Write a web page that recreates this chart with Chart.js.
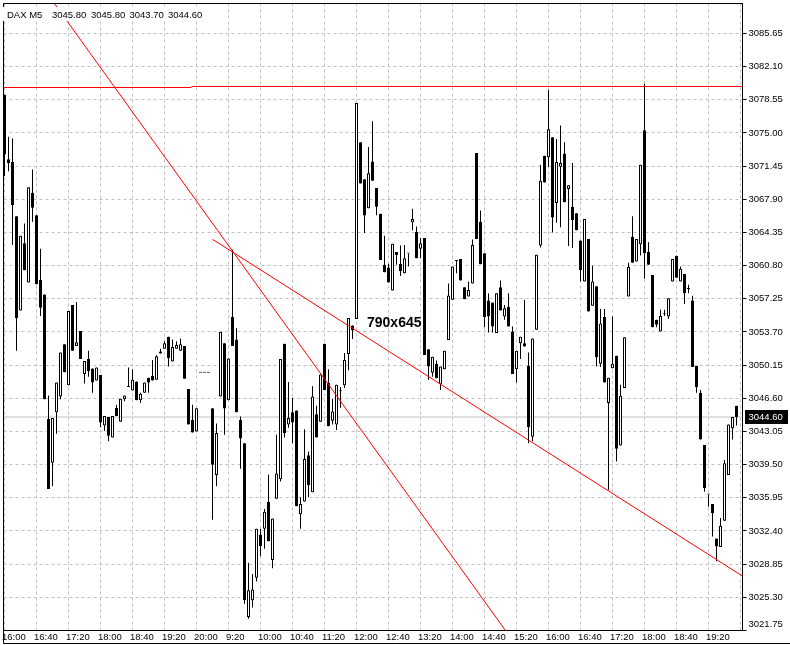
<!DOCTYPE html>
<html><head><meta charset="utf-8">
<script src="https://cdn.jsdelivr.net/npm/chart.js@4.4.1/dist/chart.umd.min.js"></script>
<style>html,body{margin:0;padding:0;background:#fff;overflow:hidden}canvas{display:block}</style>
</head><body>
<canvas id="c" width="790" height="645"></canvas>
<script>
const symbol = 'DAX';
const period = 'M5';
const watermark = '790x645';

const opens = [
3079.1,3072.2,3071.9,3066.1,3056.0,3063.2,3059.0,3068.6,3066.2,3059.3,
3057.7,3044.4,3039.7,3045.1,3046.8,3052.4,3048.0,3056.6,3052.2,3053.8,
3049.2,3050.8,3049.8,3048.5,3049.1,3043.7,3044.6,3042.4,3045.6,3044.1,
3046.5,3047.9,3047.45,3048.4,3046.4,3047.2,3048.8,3049.0,3048.6,3051.4,
3051.9,3053.2,3050.55,3051.9,3051.7,3052.2,3047.6,3044.3,3043.05,3049.35,
3049.35,3049.35,3045.55,3038.4,3046.8,3052.5,3046.4,3055.3,3052.9,3044.3,
3041.8,3023.2,3025.0,3027.4,3032.0,3032.65,3035.5,3029.3,3035.85,3037.95,
3052.45,3043.8,3045.1,3045.3,3034.2,3035.55,3040.5,3036.55,3044.9,3044.1,
3052.45,3048.25,3044.2,3043.8,3047.35,3048.0,3051.35,3054.4,3055.1,3074.0,
3070.06,3066.95,3071.95,3069.1,3066.35,3060.9,3060.6,3058.15,3062.25,3061.0,
3060.0,3062.1,3065.45,3064.4,3062.6,3063.75,3051.85,3049.35,3050.3,3048.1,
3049.7,3052.85,3057.15,3061.3,3061.5,3058.5,3057.5,3058.9,3072.85,3065.5,
3062.14,3057.07,3056.85,3053.58,3058.5,3055.36,3056.4,3053.75,3049.7,3052.5,
3052.5,3050.08,3042.5,3053.93,3062.96,3072.56,3072.4,3074.55,3067.5,3071.4,
3072.8,3069.0,3067.1,3066.4,3063.5,3059.1,3063.65,3056.5,3058.6,3050.3,
3055.3,3046.1,3049.83,3051.15,3041.55,3047.7,3057.5,3063.9,3061.25,3063.1,
3075.3,3062.25,3059.8,3055.0,3053.75,3055.6,3055.36,3059.1,3061.85,3059.1,
3059.9,3058.3,3057.07,3050.08,3047.2,3041.6,3036.3,3035.3,3031.6,3030.68,
3033.5,3038.4,3043.4,3045.8];

const highs = [
3079.1,3074.6,3074.4,3066.1,3064.0,3065.3,3069.2,3071.1,3066.2,3062.6,
3057.7,3046.9,3044.5,3048.3,3051.5,3052.4,3055.95,3056.6,3056.9,3053.8,
3050.6,3051.7,3049.8,3049.9,3049.1,3044.7,3044.6,3044.7,3045.9,3046.55,
3046.9,3049.9,3049.7,3048.4,3047.2,3048.3,3048.8,3050.7,3051.2,3051.9,
3052.7,3053.2,3052.9,3052.7,3053.0,3052.2,3047.6,3045.9,3045.55,3049.35,
3049.35,3049.35,3045.55,3043.9,3053.7,3052.5,3050.85,3062.5,3054.1,3044.65,
3041.8,3029.0,3027.8,3032.65,3032.65,3034.75,3038.45,3033.75,3042.7,3050.8,
3052.45,3048.35,3046.65,3045.3,3036.0,3043.3,3040.9,3047.9,3045.8,3049.15,
3052.45,3049.7,3046.55,3048.05,3047.8,3051.45,3055.2,3054.4,3078.2,3074.0,
3070.06,3073.5,3076.25,3069.1,3066.35,3064.0,3061.0,3063.15,3062.25,3062.95,
3063.0,3062.1,3066.9,3065.0,3063.75,3063.75,3051.85,3051.05,3050.65,3050.0,
3051.7,3058.9,3060.7,3061.4,3061.5,3058.5,3059.1,3063.6,3072.85,3066.7,
3062.14,3057.86,3056.85,3057.86,3059.2,3056.6,3057.86,3054.3,3051.7,3053.2,
3057.15,3051.5,3053.0,3061.96,3071.6,3072.56,3079.6,3074.55,3074.35,3075.8,
3074.0,3069.4,3071.8,3066.4,3063.5,3065.8,3063.65,3060.8,3058.6,3056.15,
3056.15,3048.8,3055.36,3051.15,3048.05,3053.15,3061.1,3066.1,3063.65,3071.6,
3080.26,3063.3,3059.8,3055.0,3056.07,3056.07,3057.3,3061.5,3061.85,3060.7,
3059.9,3058.75,3057.57,3050.08,3047.5,3041.6,3036.3,3035.3,3031.6,3033.8,
3040.0,3043.8,3044.6,3045.8];

const lows = [
3070.4,3070.9,3063.0,3051.7,3056.0,3060.3,3059.0,3065.5,3058.8,3055.4,
3046.5,3036.9,3037.2,3042.8,3046.5,3049.4,3048.0,3051.7,3052.2,3050.8,
3048.2,3048.9,3047.2,3048.5,3043.5,3043.1,3042.0,3042.4,3044.7,3044.1,
3046.3,3047.8,3047.45,3046.4,3046.1,3047.2,3047.2,3048.5,3048.6,3051.4,
3051.9,3050.0,3050.55,3051.9,3051.7,3048.7,3043.8,3042.95,3043.05,3049.35,
3049.35,3049.35,3033.6,3037.2,3046.8,3042.7,3046.4,3052.2,3045.1,3039.05,
3024.6,3023.0,3024.2,3027.0,3029.7,3030.5,3031.3,3028.4,3035.85,3037.7,
3042.4,3043.45,3041.8,3035.05,3032.65,3035.55,3036.0,3036.55,3042.4,3044.1,
3047.5,3043.6,3043.8,3043.2,3045.6,3047.7,3049.6,3052.95,3055.1,3069.6,
3064.3,3066.95,3069.9,3066.2,3061.4,3060.1,3059.0,3058.15,3060.9,3059.7,
3060.0,3060.7,3064.6,3061.6,3061.6,3051.25,3048.6,3048.9,3048.75,3047.5,
3049.7,3052.85,3057.15,3060.0,3059.2,3057.2,3057.5,3058.9,3063.65,3060.95,
3054.2,3053.65,3053.65,3053.58,3056.0,3055.0,3054.3,3049.2,3048.3,3050.8,
3052.15,3041.8,3042.0,3053.93,3062.75,3069.7,3071.35,3064.35,3065.4,3064.9,
3067.6,3062.9,3062.7,3064.6,3059.1,3059.1,3055.9,3056.5,3050.0,3049.95,
3048.3,3036.8,3049.83,3039.85,3041.55,3047.7,3057.5,3061.1,3061.25,3061.9,
3059.4,3060.9,3054.2,3054.2,3053.75,3055.4,3055.1,3059.1,3059.5,3059.1,
3056.7,3057.86,3049.95,3047.2,3042.2,3036.6,3035.0,3031.8,3029.15,3030.68,
3033.5,3038.4,3042.2,3043.7];

const closes = [
3072.7,3071.8,3067.3,3055.2,3064.0,3060.3,3069.2,3067.0,3058.8,3056.3,
3046.5,3036.9,3044.5,3048.3,3051.5,3049.4,3055.95,3051.7,3052.6,3050.8,
3050.6,3049.5,3048.3,3049.9,3044.0,3044.7,3042.6,3044.7,3044.7,3046.55,
3046.9,3047.8,3048.6,3046.4,3047.1,3048.3,3048.3,3048.5,3051.1,3051.6,
3052.5,3050.9,3052.1,3052.3,3052.4,3048.7,3043.8,3042.95,3045.55,3049.35,
3049.35,3049.35,3039.5,3042.9,3053.7,3045.5,3050.85,3052.2,3045.1,3042.3,
3025.0,3026.05,3026.15,3032.65,3030.8,3034.45,3031.3,3033.75,3038.55,3050.8,
3042.9,3044.5,3044.0,3035.05,3035.3,3040.1,3037.3,3046.8,3042.4,3049.15,
3047.5,3043.6,3045.2,3048.05,3047.35,3050.7,3055.2,3053.9,3078.2,3069.6,
3066.17,3070.7,3069.9,3067.1,3061.4,3060.1,3059.0,3063.15,3061.95,3060.2,
3061.6,3062.1,3065.8,3061.6,3063.2,3051.25,3050.0,3051.05,3048.75,3050.0,
3051.7,3057.6,3060.7,3061.3,3059.2,3057.2,3058.2,3063.0,3063.65,3060.95,
3055.3,3055.36,3054.3,3057.86,3056.0,3056.25,3054.3,3049.2,3051.7,3053.2,
3052.15,3043.5,3053.0,3061.96,3069.9,3069.7,3075.4,3065.95,3071.9,3071.8,
3067.6,3069.4,3065.7,3064.6,3060.3,3065.8,3055.9,3059.1,3051.0,3054.6,
3048.3,3048.8,3050.3,3041.2,3046.87,3053.15,3060.65,3061.1,3063.65,3071.6,
3062.14,3060.9,3054.2,3054.47,3055.4,3055.6,3057.3,3061.5,3059.5,3060.46,
3057.86,3058.3,3049.95,3047.8,3042.2,3037.0,3036.3,3034.3,3030.75,3032.95,
3039.65,3043.8,3044.6,3044.6];

// time axis: a label every 8 bars (40 minutes of M5 bars)
const timeTickBars = [0,8,16,24,32,40,48,56,64,72,80,88,96,104,112,120,128,136,144,152,160,168,176,184];
const timeTickLabels = ['16:00','16:40','17:20','18:00','18:40','19:20','20:00','9:20','10:00','10:40','11:20','12:00','12:40','13:20','14:00','14:40','15:20','16:00','16:40','17:20','18:00','18:40','19:20',''];

const priceTicks = [3021.75,3025.30,3028.85,3032.40,3035.95,3039.50,3043.05,3046.60,3050.15,3053.70,3057.25,3060.80,3064.35,3067.90,3071.45,3075.00,3078.55,3082.10,3085.65];
const priceMin = 3021.75;
const priceMax = 3088.86;

// drawn objects (bar index, price)
const resistanceLeft  = [[-1, 3079.87], [46.75, 3079.87]];
const resistanceRight = [[46.75, 3079.98], [190, 3079.98]];
const trendSteep      = [[10, 3090.33], [130, 3018.92]];
const trendSupport    = [[52, 3063.62], [190, 3026.08]];

const n = closes.length;
const last = n - 1;
const toXY = arr => arr.map(p => ({x: p[0], y: p[1]}));

const wickData = highs.map((h, i) => ({x: i, y: [lows[i], h]}));
const bodyData = opens.map((o, i) => ({x: i, y: [Math.min(o, closes[i]), Math.max(o, closes[i])]}));
const bodyFill = opens.map((o, i) => closes[i] >= o ? '#ffffff' : '#000000');

const FONT = '"Liberation Sans", Arial, sans-serif';
const FSIZE = 9.5;

const decor = {
  id: 'decor',
  afterDatasetsDraw(chart) {
    const {ctx, chartArea: a} = chart;
    ctx.save();
    ctx.strokeStyle = '#000';
    ctx.lineWidth = 1;
    ctx.beginPath();
    ctx.moveTo(a.left, a.top); ctx.lineTo(a.right, a.top);
    ctx.moveTo(a.left, a.top); ctx.lineTo(a.left, 643.5);
    ctx.moveTo(a.left, 643.5); ctx.lineTo(790, 643.5);
    ctx.stroke();
    // header
    ctx.fillStyle = '#fff';
    ctx.fillRect(0, 7, 206, 14);
    ctx.fillStyle = '#000';
    ctx.font = FSIZE + 'px ' + FONT;
    ctx.textBaseline = 'alphabetic';
    ctx.textAlign = 'left';
    const hdr = [symbol + ' ' + period, opens[last].toFixed(2), highs[last].toFixed(2), lows[last].toFixed(2), closes[last].toFixed(2)];
    const hx = [7, 52, 91, 129.5, 168];
    hdr.forEach((t, i) => ctx.fillText(t, hx[i], 18));
    // watermark
    ctx.font = 'bold 14px ' + FONT;
    ctx.fillText(watermark, 367, 327);
    ctx.restore();
  },
  afterDraw(chart) {
    const {ctx, scales: {y}} = chart;
    const py = Math.round(y.getPixelForValue(closes[last]));
    ctx.save();
    ctx.fillStyle = '#000';
    ctx.fillRect(745, py - 7, 43, 14);
    ctx.fillStyle = '#fff';
    ctx.font = FSIZE + 'px ' + FONT;
    ctx.textBaseline = 'middle';
    ctx.textAlign = 'left';
    ctx.fillText(closes[last].toFixed(2), 748.5, py + 0.5);
    ctx.restore();
  }
};

const lineDs = (data, color, order) => ({
  type: 'line', data, borderColor: color, borderWidth: 1, pointRadius: 0,
  tension: 0, fill: false, order
});

new Chart(document.getElementById('c'), {
  type: 'bar',
  data: {
    datasets: [
      lineDs([{x: -0.25, y: closes[last]}, {x: 184.5, y: closes[last]}], '#c0c0c0', 4),
      { type: 'bar', data: wickData, backgroundColor: '#000', borderWidth: 0, inflateAmount: 0,
        barThickness: 1, grouped: false, order: 3 },
      { type: 'bar', data: bodyData, backgroundColor: bodyFill, borderColor: '#000', borderWidth: 1, inflateAmount: 0,
        borderSkipped: false, minBarLength: 1, barThickness: 3, grouped: false, order: 2 },
      lineDs(toXY(resistanceLeft), '#ff0000', 1),
      lineDs(toXY(resistanceRight), '#ff0000', 1),
      lineDs(toXY(trendSteep), '#ff0000', 1),
      lineDs(toXY(trendSupport), '#ff0000', 1)
    ]
  },
  options: {
    responsive: false,
    animation: false,
    events: [],
    layout: { padding: { left: 3.5, top: 3.5, right: 0, bottom: 0 } },
    plugins: { legend: { display: false }, tooltip: { enabled: false }, title: { display: false } },
    scales: {
      x: {
        type: 'linear', position: 'bottom', min: -0.25, max: 184.5, offset: false,
        afterBuildTicks: s => { s.ticks = timeTickBars.map(v => ({value: v})); },
        afterFit: s => { s.height = 14.5; s.paddingLeft = 0; s.paddingRight = 0; },
        ticks: {
          autoSkip: false, maxRotation: 0, minRotation: 0, align: 'start', labelOffset: -2.5, padding: 1,
          color: '#000', font: { family: FONT, size: FSIZE },
          callback: (v, i) => timeTickLabels[i] || ''
        },
        grid: { color: '#c0c0c0', drawTicks: false, offset: false, lineWidth: 1 },
        border: { display: true, color: '#000', width: 1, dash: [3, 3] }
      },
      y: {
        type: 'linear', position: 'right', min: priceMin, max: priceMax, beginAtZero: false,
        afterBuildTicks: s => { s.ticks = priceTicks.map(v => ({value: v})); },
        afterFit: s => { s.width = 47.5; s.paddingTop = 0; s.paddingBottom = 0; },
        ticks: {
          color: '#000', padding: 2, font: { family: FONT, size: FSIZE },
          callback: (v, i) => i === 0 ? [Number(v).toFixed(2), ''] : Number(v).toFixed(2)
        },
        grid: { color: '#c0c0c0', tickColor: '#000', tickLength: 4, drawTicks: true, lineWidth: 1 },
        border: { display: true, color: '#000', width: 1, dash: [3, 3] }
      }
    }
  },
  plugins: [decor]
});
</script>
</body></html>
